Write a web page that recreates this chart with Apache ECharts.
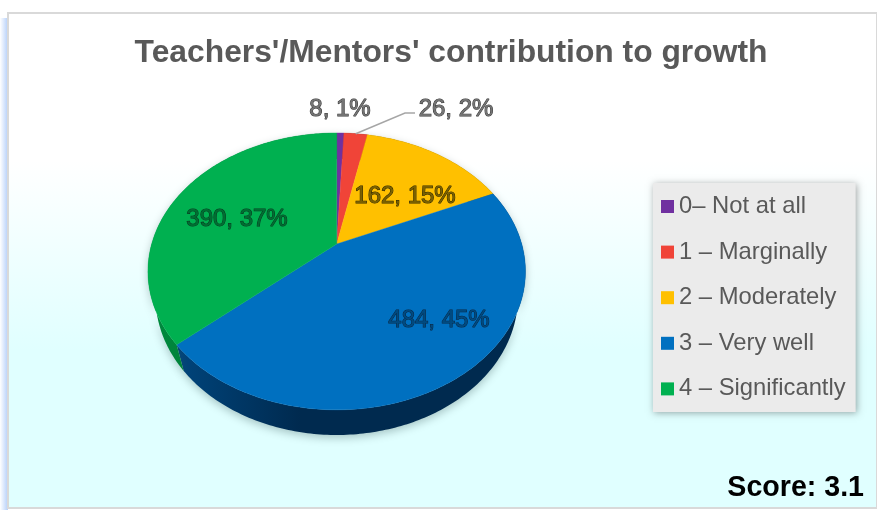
<!DOCTYPE html>
<html>
<head>
<meta charset="utf-8">
<style>html,body{margin:0;padding:0;background:#fff}#c{width:877px;height:510px;filter:blur(0.45px)}</style>
<script src="https://cdn.jsdelivr.net/npm/echarts@6/dist/echarts.min.js"></script>
</head>
<body>
<div id="c"></div>
<script>
const categories = ['0– Not at all','1 – Marginally','2 – Moderately','3 – Very well','4 – Significantly'];
const counts = [8, 26, 162, 484, 390];
const percents = [1, 2, 15, 45, 37];
const colors = ['#7030a0','#f04438','#ffc000','#0070c0','#00b050'];
const sideLight = ['#4a2070','#a02c24','#b08600','#004a85','#008a3e'];
const sideDark = ['#351650','#701e18','#7a5d00','#002a4f','#006a30'];
const labelFill = ['#747474','#747474','#7a6000','#004a80','#006e32'];
const labelEdge = ['#333333','#333333','#2e2600','#0a2640','#0a3520'];
const labelPos = [[340,109],[456,109],[405,196],[439,320],[237,219]];

const total = counts.reduce((a,b)=>a+b,0);
const PX=336.7, PY=244, A=185, B=133, P=0.198, Q=0.04, C=27.8;
function proj(theta,h){
  const u=Math.sin(theta), v=-Math.cos(theta), w=1-P*v+Q*h;
  return [PX+A*u/w, PY+(B*v+C*h)/w];
}
function arc(a0,a1,h){
  const n=Math.max(2,Math.ceil((a1-a0)/0.015)), pts=[];
  for(let i=0;i<=n;i++) pts.push(proj(a0+(a1-a0)*i/n,h));
  return pts;
}
function renderSlice(i){
  return function(params,api){
    const val=api.value(0);
    let before=0; for(let k=0;k<i;k++) before+=counts[k];
    const a0=before/total*2*Math.PI, a1=(before+val)/total*2*Math.PI;
    const top=arc(a0,a1,0), low=arc(a0,a1,1);
    const children=[{
      type:'polygon', z2:1, shape:{points:top.concat(low.slice().reverse())},
      style:{fill:new echarts.graphic.LinearGradient(150,0,300,0,[
        {offset:0,color:sideLight[i]},{offset:1,color:sideDark[i]}],true),
        shadowBlur:8,shadowColor:'rgba(60,90,90,0.35)',shadowOffsetY:3}
    },{
      type:'polygon', z2:10, shape:{points:[[PX,PY]].concat(top)},
      style:{fill:colors[i],stroke:colors[i],lineWidth:0.4}
    },{
      type:'text', z2:30, x:labelPos[i][0], y:labelPos[i][1],
      style:{text:val+', '+percents[i]+'%',align:'center',verticalAlign:'middle',
        font:'24px "Liberation Sans", Arial, sans-serif',
        fill:labelFill[i],stroke:labelEdge[i],lineWidth:1}
    }];
    if(i===1){
      const mid=proj((a0+a1)/2,0);
      children.push({type:'polyline',z2:20,
        shape:{points:[mid,[405,113],[415,113]]},
        style:{fill:'none',stroke:'#a6a6a6',lineWidth:1.5}});
    }
    return {type:'group',children};
  };
}
const chart=echarts.init(document.getElementById('c'),null,{renderer:'canvas'});
chart.setOption({
  animation:false,
  color:colors,
  title:{text:"Teachers'/Mentors' contribution to growth",left:446,top:32,textAlign:'center',
    textStyle:{fontFamily:'"Liberation Sans", Arial, sans-serif',fontWeight:'bold',fontSize:31.8,color:'#595959'}},
  legend:{
    orient:'vertical',left:653,top:183,
    padding:[11.5,10,11,8],itemWidth:13,itemHeight:13,itemGap:21.6,itemStyle:{borderWidth:0},
    icon:'rect',selectedMode:false,
    backgroundColor:'#ebebeb',shadowBlur:7,shadowColor:'rgba(0,0,0,0.35)',shadowOffsetX:1,shadowOffsetY:1,
    data:categories,
    textStyle:{fontFamily:'"Liberation Sans", Arial, sans-serif',fontSize:23.8,lineHeight:24,color:'#595959'}
  },
  graphic:[
    {type:'rect',silent:true,z:-10,shape:{x:0,y:18,width:8,height:492},
      style:{fill:new echarts.graphic.LinearGradient(0,0,1,0,[{offset:0,color:'#ffffff'},{offset:1,color:'#b4cffa'}])}},
    {type:'rect',silent:true,z:-10,shape:{x:8,y:13,width:869,height:495},
      style:{fill:new echarts.graphic.LinearGradient(0,0,0,1,[{offset:0,color:'#ffffff'},{offset:0.3,color:'#ffffff'},{offset:0.68,color:'#e0ffff'},{offset:1,color:'#e0ffff'}]),
        stroke:'#d9d9d9',lineWidth:2}},
    {type:'text',z:5,silent:true,right:13,top:474,
      style:{text:'Score: 3.1',font:'bold 28.6px "Liberation Sans", Arial, sans-serif',fill:'#000'}}
  ],
  series:categories.map((name,i)=>({
    type:'custom',name,coordinateSystem:'none',data:[[counts[i]]],
    itemStyle:{color:colors[i]},
    renderItem:renderSlice(i),silent:true,clip:false
  }))
});
</script>
</body>
</html>
